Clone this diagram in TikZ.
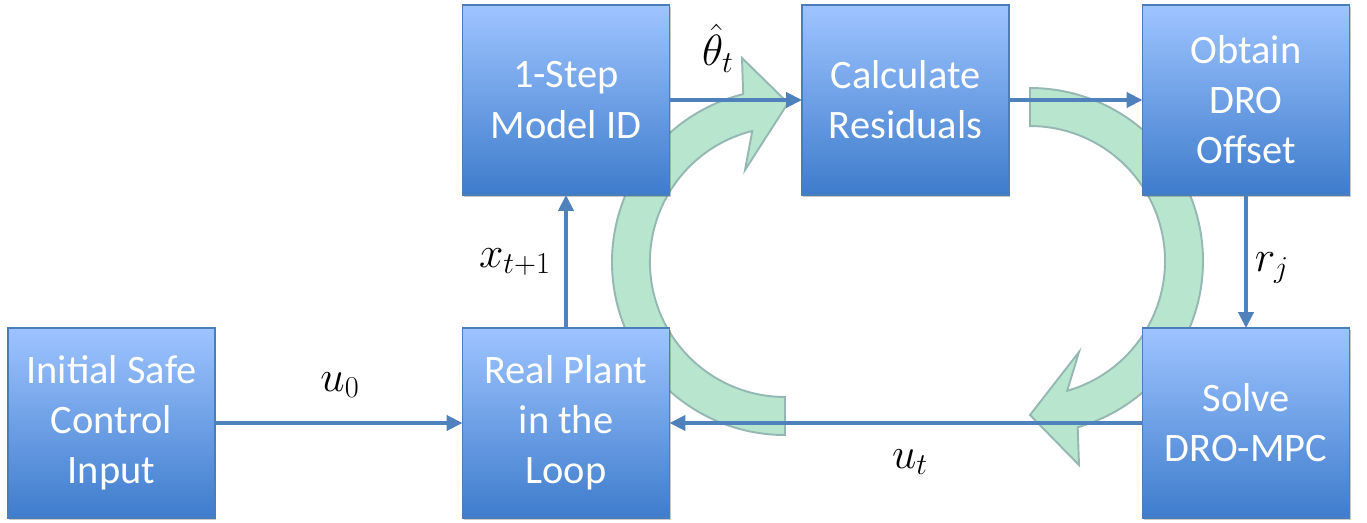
\documentclass[tikz,border=0pt]{standalone}
\usepackage{fontspec}
\newfontfamily\boxfont{Carlito}
\usetikzlibrary{arrows.meta,shadows}
\definecolor{boxtop}{RGB}{158,196,255}
\definecolor{boxbot}{RGB}{62,124,204}
\definecolor{boxline}{RGB}{74,126,187}
\definecolor{conn}{RGB}{79,129,189}
\definecolor{ringfill}{RGB}{183,229,206}
\definecolor{ringline}{RGB}{150,184,180}
\tikzset{
  blockbox/.style={rectangle, minimum width=4.14cm, minimum height=3.8cm,
    inner sep=0pt, outer sep=0pt, top color=boxtop, bottom color=boxbot,
    draw=boxline, line width=0.8pt, text=white, align=center,
    font=\boxfont\fontsize{23}{28.5}\selectfont,
    drop shadow={shadow xshift=0.8pt, shadow yshift=-1.2pt, opacity=0.3, fill=black!70}},
  conn/.style={draw=conn, line width=2.1pt, -{Triangle[length=9pt,width=8.5pt]}},
  ring/.style={fill=ringfill, draw=ringline, line width=1.1pt, line join=miter},
  mlabel/.style={inner sep=0pt, font=\fontsize{26}{30}\selectfont}
}
\begin{document}
\begin{tikzpicture}[x=0.02cm, y=0.02cm]
\useasboundingbox (0,0) rectangle (1367,522);
% green cycle arrows
\path[ring] (785,87) arc[start angle=270, end angle=104, radius=173]
  -- (742,464) -- (788,419) -- (745,352) -- (752.3,391.0)
  arc[start angle=104, end angle=270, radius=135] -- cycle;
\path[ring] (1030,434) arc[start angle=90, end angle=-74, radius=173]
  -- (1079,57) -- (1030,107) -- (1079,170) -- (1067.2,131.2)
  arc[start angle=-74, end angle=90, radius=135] -- cycle;
% boxes
\node[blockbox] (init)   at (111.5,99)  {Initial Safe\\Control\\Input};
\node[blockbox] (plant)  at (566,99)    {Real Plant\\in the\\Loop};
\node[blockbox] (model)  at (566,422)   {1-Step\\Model ID};
\node[blockbox] (calc)   at (905.5,422) {Calculate\\Residuals};
\node[blockbox] (obtain) at (1246,422)  {Obtain\\DRO\\Offset};
\node[blockbox] (solve)  at (1246,99)   {Solve\\DRO-MPC};
% connectors
\draw[conn] (init) -- (plant);
\draw[conn] (plant) -- (model);
\draw[conn] (model) -- (calc);
\draw[conn] (calc) -- (obtain);
\draw[conn] (obtain) -- (solve);
\draw[conn] (solve) -- (plant);
% labels
\node[mlabel] (lu0)    at (340,137)  {$u_0$};
\node[mlabel] (lx)     at (515,260)  {$x_{t+1}$};
\node[mlabel] (ltheta) at (718,474)  {$\hat{\theta}_t$};
\node[mlabel] (lr)     at (1272,254) {$r_j$};
\node[mlabel] (lut)    at (910,60)   {$u_t$};
\end{tikzpicture}
\end{document}
